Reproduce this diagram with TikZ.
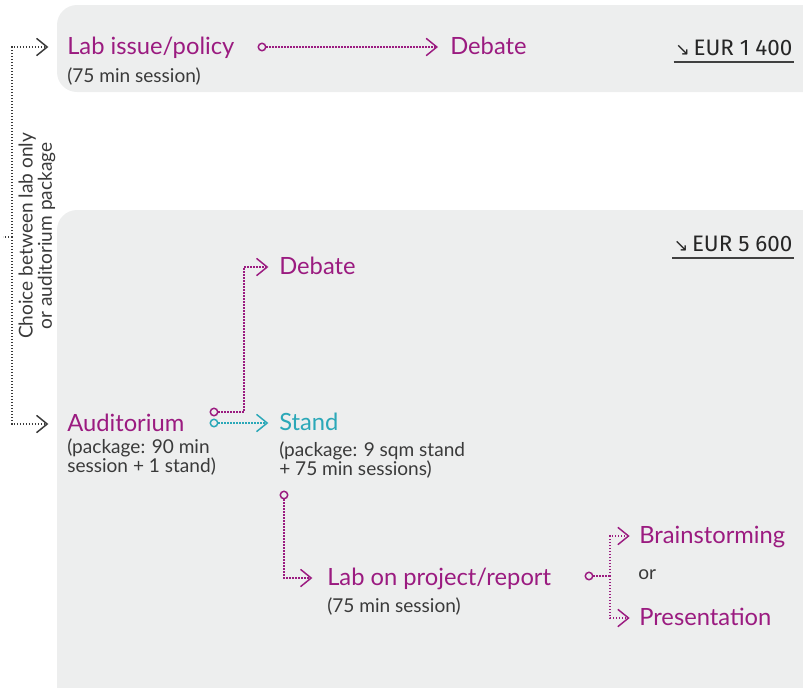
\documentclass[tikz,border=0pt]{standalone}
\usepackage{fontspec}
\setmainfont{Lato}
\newfontfamily\pricefont{Fira Sans}
\newfontfamily\symfont{DejaVu Sans}
\usetikzlibrary{arrows.meta}
\definecolor{plum}{HTML}{9B1B80}
\definecolor{standcol}{HTML}{2BA8B8}
\definecolor{panel}{HTML}{EDEEEE}
\definecolor{ink}{HTML}{3A3A3A}
\begin{document}
\begin{tikzpicture}[x=0.75pt,y=-0.75pt,
  panelbox/.style={fill=panel,rounded corners=15pt},
  title/.style={anchor=west,inner sep=0pt,text height=14pt,text depth=2.6pt,
    font=\fontsize{17.8}{20}\selectfont,text=plum},
  note/.style={anchor=north west,inner sep=0pt,align=left,
    font=\fontsize{14.3}{14.3}\selectfont,text=ink},
  price/.style={anchor=base east,inner xsep=1pt,inner ysep=0pt,
    font=\pricefont\fontsize{16.8}{18}\selectfont,text=black!85},
  dotline/.style={line width=1.1pt,dash pattern=on 1.1pt off 1.15pt},
  flow/.style={dotline,-{Straight Barb[length=8pt,width=13pt,line width=1.1pt]}},
  knob/.style={circle,draw=#1,line width=1.1pt,minimum size=5.6pt,inner sep=0pt,fill=panel}]
\useasboundingbox (0,0) rectangle (803,687);
\fill[panelbox] (57,5) rectangle (840,92);
\fill[panelbox] (57,210) rectangle (840,730);

\node[title] (lab) at (67,47) {Lab issue/policy};
\node[note] (labn) at (67,67) {(75 min session)};
\node[title] (debA) at (450,47) {Debate};
\node[knob=plum] (knobA) at (262,47) {};
\draw[flow,plum] (knobA) -- ([xshift=-9pt]debA.west);
\node[price] (eurA) at (794,55) {{\symfont\fontsize{13}{13}\selectfont ↘}\,EUR 1 400};
\draw[line width=0.9pt,black!75] ([yshift=-5.2pt]eurA.base west) -- ([yshift=-5.2pt]eurA.base east);

\node[price] (eurB) at (794,251) {{\symfont\fontsize{13}{13}\selectfont ↘}\,EUR 5 600};
\draw[line width=0.9pt,black!75] ([yshift=-5.2pt]eurB.base west) -- ([yshift=-5.2pt]eurB.base east);
\node[title] (debB) at (279,267) {Debate};
\node[title] (aud) at (67,424) {Auditorium};
\node[note] (audn) at (67,438) {(package: 90 min\\session + 1 stand)};
\node[title,text=standcol] (stand) at (279,423) {Stand};
\node[note] (standn) at (279,441) {(package: 9 sqm stand\\+ 75 min sessions)};
\node[knob=plum] (knobD) at (214,412) {};
\node[knob=standcol] (knobS) at (214,423) {};
\draw[flow,plum] (knobD) -- ++(30,0) |- ([xshift=-8pt]debB.west);
\draw[flow,standcol] (knobS) -- ([xshift=-8pt]stand.west);

\node[knob=plum] (knobL) at (284,495) {};
\node[title] (labp) at (327,578) {Lab on project/report};
\node[note] (labpn) at (327,597) {(75 min session)};
\draw[flow,plum] (knobL) |- ([xshift=-11pt]labp.west);

\node[knob=plum] (knobB) at (589,576) {};
\node[title] (brain) at (639,536) {Brainstorming};
\node[note,anchor=west] (or) at (638,575) {or};
\node[title] (pres) at (639,618) {Presentation};
\coordinate (fork) at (610,576);
\draw[dotline,plum] (knobB) -- (fork);
\draw[flow,plum] (fork) |- ([xshift=-7pt]brain.west);
\draw[flow,plum] (fork) |- ([xshift=-7pt]pres.west);

\coordinate (split) at (12,237);
\draw[flow,ink] (split) |- ([xshift=-14pt]lab.west);
\draw[flow,ink] (split) |- ([xshift=-14pt]aud.west);
\draw[dotline,ink] (split) -- ++(-9,0);
\node[note,anchor=center,align=center,rotate=90] (choice) at (37,236) {Choice between lab only\\or auditorium package};
\end{tikzpicture}
\end{document}
